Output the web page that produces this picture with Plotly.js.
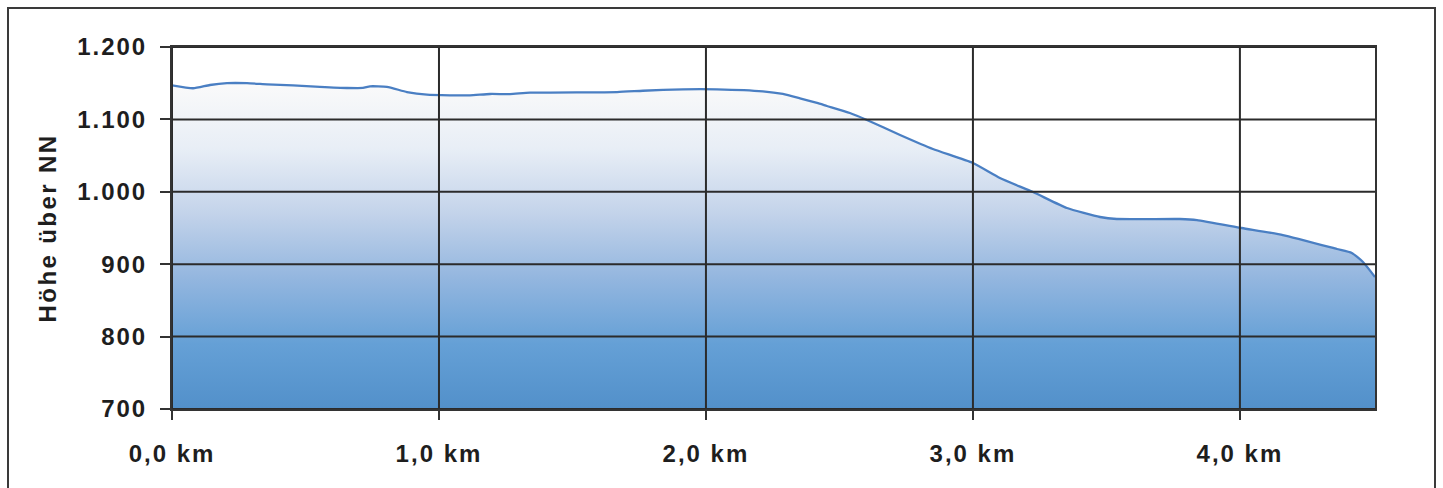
<!DOCTYPE html>
<html>
<head>
<meta charset="utf-8">
<script src="https://cdn.plot.ly/plotly-3.0.1.min.js"></script>
<style>
  html, body { margin: 0; padding: 0; background: #ffffff; }
  #wrap { position: relative; width: 1443px; height: 488px; overflow: hidden; }
  #frame { position: absolute; left: 7px; top: 7px; width: 1429px; height: 500px; border: 2px solid #3a3a3a; box-sizing: border-box; }
  #chart { position: absolute; left: 0; top: 0; width: 1443px; height: 488px; }
  #chart .xtick text, #chart .ytick text { letter-spacing: 2px; }
  #chart .ytitle { letter-spacing: 2.4px; }
</style>
</head>
<body>
<div id="wrap">
  <div id="frame"></div>
  <div id="chart"></div>
</div>
<script>
// Distance along the route (km)
const distanceKm = [
  0.000, 0.079, 0.142, 0.206, 0.281, 0.356, 0.453, 0.554, 0.655, 0.715,
  0.742, 0.805, 0.880, 0.955, 1.041, 1.116, 1.191, 1.266, 1.341, 1.667,
  1.764, 1.914, 2.041, 2.213, 2.288, 2.352, 2.416, 2.453, 2.539, 2.603,
  2.727, 2.850, 3.000, 3.101, 3.225, 3.352, 3.476, 3.539, 3.775, 3.839,
  4.007, 4.161, 4.363, 4.419, 4.461, 4.506
];
// Elevation above sea level (m über NN)
const elevationM = [
  1147, 1143, 1147.5, 1150, 1150, 1148.5, 1147, 1145, 1143.4, 1143.4,
  1145.7, 1145, 1137.8, 1134.1, 1133.3, 1133.3, 1135.1, 1135, 1136.9, 1137.8,
  1139.6, 1141.6, 1141.6, 1138.8, 1135.1, 1129.1, 1122.7, 1118.5, 1108.8, 1099.2,
  1078.5, 1059.1, 1039.8, 1019.1, 999.7, 977.6, 965.2, 962.4, 962.4, 961,
  950, 940.3, 921, 915.5, 903, 882.3
];
const xTickVals = [0, 1, 2, 3, 4];
const xTickLabels = ['0,0 km', '1,0 km', '2,0 km', '3,0 km', '4,0 km'];
const yTickVals = [700, 800, 900, 1000, 1100, 1200];
const yTickLabels = ['700', '800', '900', '1.000', '1.100', '1.200'];
const yTitle = 'Höhe über NN';

const tickFont = { family: 'Liberation Sans, Arial, sans-serif', size: 24, color: '#1e1e1e', weight: 'bold' };
const gridColor = '#2b2b2b';

const trace = {
  x: distanceKm,
  y: elevationM,
  type: 'scatter',
  mode: 'lines',
  line: { color: '#4a7fc3', width: 2.3, shape: 'spline', smoothing: 0.5 },
  fill: 'tozeroy',
  fillgradient: {
    type: 'vertical',
    start: 700,
    stop: 1150,
    colorscale: [
      [0.0, '#5290ca'],
      [0.2, '#65a0d6'],
      [0.4, '#93b6df'],
      [0.6, '#c3d3ea'],
      [0.8, '#e8eef6'],
      [1.0, '#fafafa']
    ]
  },
  hoverinfo: 'x+y',
  showlegend: false
};

// gridlines drawn above the filled area, derived from the tick arrays
const gridShapes = [];
xTickVals.forEach(v => gridShapes.push({
  type: 'line', layer: 'above', xref: 'x', yref: 'paper', x0: v, x1: v, y0: 0, y1: 1,
  line: { color: gridColor, width: 2 }
}));
yTickVals.forEach(v => gridShapes.push({
  type: 'line', layer: 'above', xref: 'paper', yref: 'y', x0: 0, x1: 1, y0: v, y1: v,
  line: { color: gridColor, width: 2 }
}));

const layout = {
  width: 1443,
  height: 488,
  margin: { l: 172, r: 68, t: 47, b: 79, pad: 0 },
  paper_bgcolor: 'rgba(0,0,0,0)',
  plot_bgcolor: '#ffffff',
  font: tickFont,
  shapes: gridShapes,
  xaxis: {
    range: [0, 4.506],
    tickvals: xTickVals,
    ticktext: xTickLabels,
    ticks: 'outside',
    ticklen: 9,
    tickwidth: 2,
    tickcolor: '#333333',
    ticklabelstandoff: 13,
    showgrid: false,
    showline: true,
    linecolor: '#333333',
    linewidth: 2,
    mirror: true,
    zeroline: false,
    tickfont: tickFont,
    layer: 'above traces'
  },
  yaxis: {
    range: [700, 1200],
    tickvals: yTickVals,
    ticktext: yTickLabels,
    ticks: 'outside',
    ticklen: 10,
    tickwidth: 2,
    tickcolor: '#333333',
    ticklabelstandoff: 8,
    showgrid: false,
    showline: true,
    linecolor: '#333333',
    linewidth: 2,
    mirror: true,
    zeroline: false,
    tickfont: tickFont,
    title: { text: yTitle, font: { family: tickFont.family, size: 24, color: '#1e1e1e', weight: 'bold' }, standoff: 24 },
    layer: 'above traces'
  }
};

Plotly.newPlot('chart', [trace], layout, { displayModeBar: false, staticPlot: true });
</script>
</body>
</html>
